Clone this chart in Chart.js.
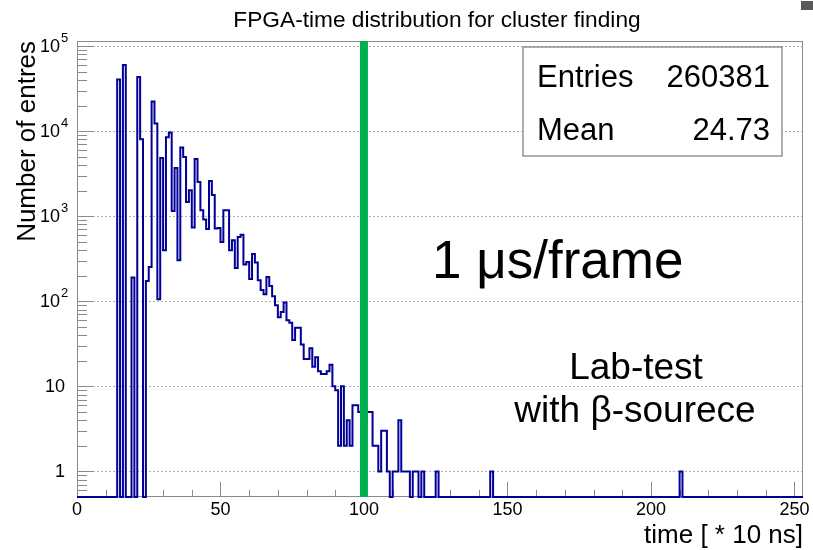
<!DOCTYPE html>
<html>
<head>
<meta charset="utf-8">
<script src="https://cdn.jsdelivr.net/npm/chart.js@4.4.1/dist/chart.umd.min.js"></script>
<style>
  html, body { margin: 0; padding: 0; background: #fff; }
</style>
</head>
<body>
<canvas id="fpgaTime" width="813" height="550"></canvas>
<script>
// histogram contents, one value per bin of width 1 (bins 14 .. 125)
const firstBin = 14;
const binCounts = [
  40500, 0, 60000, 0, 0, 190, 0, 43500, 8050, 0,
  173, 253, 22300, 12300, 106, 4850, 398, 8500, 9640, 1155,
  3700, 303, 6430, 4990, 1475, 2020, 736, 4700, 2535, 1178,
  915, 710, 2590, 1780, 720, 728, 499, 1178, 1178, 398,
  522, 247, 571, 608, 271, 290, 183, 360, 285, 177,
  136, 121, 193, 151, 115, 90, 65, 75, 97, 60,
  56, 35, 49, 49, 31, 21, 21, 28, 17, 22,
  15, 14, 14, 15, 18, 10, 9, 2, 10, 2,
  4, 2, 6, 6, 5, 5, 4, 5, 5, 2,
  2, 1, 3, 3, 1, 0, 1, 1, 4, 1,
  1, 1, 0, 1, 1, 0, 1, 0, 0, 0,
  0, 1
];
// lonely late entries
const lateBins = [144, 210];
const lateCounts = [1, 1];
const nBins = 253;

const xTickValues = [0, 50, 100, 150, 200, 250];
const yTickValues = [1, 10, 100, 1000, 10000, 100000];
const markerTime = [100];
const statsNames = ['Entries', 'Mean'];
const statsValues = ['260381', '24.73'];

const yMin = 0.5, yMax = 1.15e5;
const FONT = '"Liberation Sans", Arial, Helvetica, sans-serif';

// fill the full bin array
var hist = new Array(nBins).fill(0);
binCounts.forEach(function(c, i) { hist[firstBin + i] = c; });
lateBins.forEach(function(b, i) { hist[b] = lateCounts[i]; });

// empty bins sit on the bottom of the log axis, like ROOT draws them
var histPoints = hist.map(function(c, i) { return { x: i, y: c > 0 ? c : yMin }; });
histPoints.push({ x: nBins, y: yMin });

var markerPoints = [{ x: markerTime[0], y: yMin }, { x: markerTime[0], y: yMax }];

var rootStyle = {
    id: 'rootStyle',
    beforeDatasetsDraw: function(chart) {
        var ctx = chart.ctx, a = chart.chartArea;
        var xs = chart.scales.x, ys = chart.scales.y;
        ctx.save();
        ctx.strokeStyle = '#8a8a8a';
        ctx.lineWidth = 1;
        ctx.strokeRect(a.left + 0.5, a.top + 0.5, a.right - a.left - 1, a.bottom - a.top - 1);
        ctx.beginPath();
        // x ticks, pointing inwards
        for (var v = 0; v <= 250; v += 10) {
            var px = Math.round(xs.getPixelForValue(v)) + 0.5;
            var len = (v % 50 === 0) ? 15 : 7;
            ctx.moveTo(px, a.bottom);
            ctx.lineTo(px, a.bottom - len);
        }
        // y ticks, decades longer
        for (var e = -1; e <= 5; e++) {
            for (var m = 1; m < 10; m++) {
                var val = m * Math.pow(10, e);
                if (val < yMin || val > yMax) continue;
                var py = Math.round(ys.getPixelForValue(val)) + 0.5;
                ctx.moveTo(a.left, py);
                ctx.lineTo(a.left + (m === 1 ? 16 : 10), py);
            }
        }
        ctx.stroke();
        ctx.restore();
    },
    afterDraw: function(chart) {
        var ctx = chart.ctx, a = chart.chartArea;
        var xs = chart.scales.x, ys = chart.scales.y;
        ctx.save();
        ctx.fillStyle = '#000';

        // title
        ctx.font = '22.7px ' + FONT;
        ctx.textAlign = 'center';
        ctx.textBaseline = 'alphabetic';
        ctx.fillText('FPGA-time distribution for cluster finding', 437, 27);

        // x tick labels
        ctx.font = '18px ' + FONT;
        ctx.textBaseline = 'top';
        xTickValues.forEach(function(v) {
            ctx.fillText(String(v), xs.getPixelForValue(v), a.bottom + 4);
        });

        // y tick labels with exponents
        ctx.textBaseline = 'middle';
        yTickValues.forEach(function(v) {
            var py = ys.getPixelForValue(v);
            var p = Math.round(Math.log10(v));
            ctx.font = '18px ' + FONT;
            ctx.textAlign = 'right';
            if (p <= 1) {
                ctx.fillText(String(v), 65, py + 1);
            } else {
                ctx.fillText('10', 60, py + 1);
                ctx.font = '13px ' + FONT;
                ctx.textAlign = 'left';
                ctx.fillText(String(p), 61, py - 8);
            }
        });

        // axis titles
        ctx.font = '26px ' + FONT;
        ctx.textBaseline = 'alphabetic';
        ctx.textAlign = 'right';
        ctx.fillText('time [ * 10 ns]', 803, 543);
        ctx.save();
        ctx.translate(35, a.top);
        ctx.rotate(-Math.PI / 2);
        ctx.textAlign = 'right';
        ctx.fillText('Number of entres', 0, 0);
        ctx.restore();

        // stats box
        ctx.fillStyle = '#fff';
        ctx.fillRect(523, 47, 259, 109);
        ctx.strokeStyle = '#7a7a7a';
        ctx.lineWidth = 1.2;
        ctx.strokeRect(523, 47, 259, 109);
        ctx.fillStyle = '#000';
        ctx.font = '31px ' + FONT;
        statsNames.forEach(function(n, i) {
            var base = 87 + i * 53;
            ctx.textAlign = 'left';
            ctx.fillText(n, 537, base);
            ctx.textAlign = 'right';
            ctx.fillText(statsValues[i], 770, base);
        });

        // annotations
        ctx.textAlign = 'left';
        ctx.font = '53px ' + FONT;
        ctx.fillText('1 \u03bcs/frame', 432, 278);
        ctx.textAlign = 'center';
        ctx.font = '37px ' + FONT;
        ctx.fillText('Lab-test', 636, 379);
        ctx.fillText('with \u03b2-sourece', 635, 422);

        // corner mark
        ctx.fillStyle = '#5a5a5a';
        ctx.fillRect(801, 1, 12, 9);
        ctx.restore();
    }
};

document.addEventListener('DOMContentLoaded', function() {
    var canvas = document.getElementById('fpgaTime');
    var ctx = canvas.getContext('2d');
    new Chart(ctx, {
        type: 'line',
        data: {
            datasets: [{
                label: 'marker',
                data: markerPoints,
                borderColor: '#00b050',
                borderWidth: 8,
                pointRadius: 0,
                order: 1
            }, {
                label: 'time',
                data: histPoints,
                stepped: true,
                borderColor: '#000099',
                borderWidth: 2,
                pointRadius: 0,
                fill: false,
                clip: 3,
                order: 2
            }]
        },
        options: {
            responsive: false,
            animation: false,
            layout: { padding: { top: 41, right: 10 } },
            plugins: {
                legend: { display: false },
                tooltip: { enabled: false }
            },
            scales: {
                x: {
                    type: 'linear',
                    min: 0,
                    max: nBins,
                    grid: { display: false },
                    border: { display: false },
                    ticks: { display: false },
                    afterFit: function(s) { s.height = 53; }
                },
                y: {
                    type: 'logarithmic',
                    min: yMin,
                    max: yMax,
                    afterBuildTicks: function(s) {
                        s.ticks = yTickValues.map(function(v) { return { value: v }; });
                    },
                    grid: { color: '#b0b0b0', lineWidth: 1, drawTicks: false },
                    border: { display: false, dash: [2, 2] },
                    ticks: { display: false },
                    afterFit: function(s) { s.width = 77; }
                }
            }
        },
        plugins: [rootStyle]
    });
});
</script>
</body>
</html>
